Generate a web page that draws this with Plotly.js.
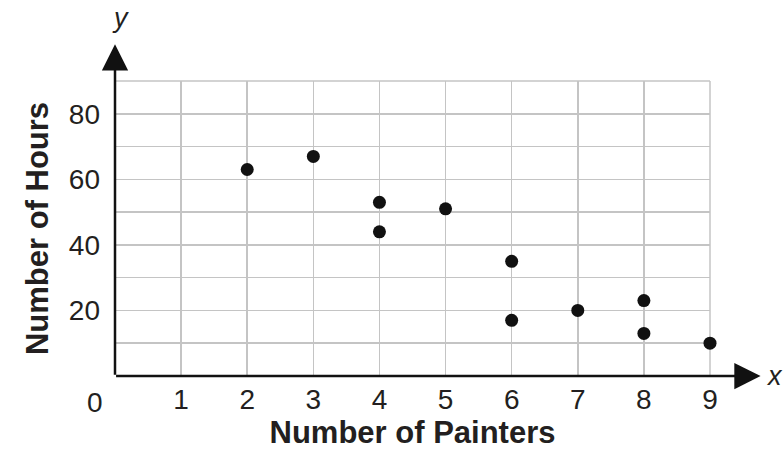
<!DOCTYPE html>
<html>
<head>
<meta charset="utf-8">
<script src="https://cdn.plot.ly/plotly-3.0.1.min.js"></script>
<style>html,body{margin:0;padding:0;background:#fff;}#chart{width:784px;height:456px;}</style>
</head>
<body>
<div id="chart"></div>
<script>
const painters = [2, 3, 4, 4, 5, 6, 6, 7, 8, 8, 9];
const hours    = [63, 67, 53, 44, 51, 35, 17, 20, 23, 13, 10];
const xTickVals = [1, 2, 3, 4, 5, 6, 7, 8, 9];
const xTickText = ['1', '2', '3', '4', '5', '6', '7', '8', '9'];
const yTickVals = [10, 20, 30, 40, 50, 60, 70, 80, 90];
const yTickText = ['', '20', '', '40', '', '60', '', '80', ''];
const xTitle = 'Number of Painters';
const yTitle = 'Number of Hours';

const tickFont = {family: 'Liberation Sans, Arial, sans-serif', size: 28, color: '#231f20'};
const titleFont = {family: 'Liberation Sans, Arial, sans-serif', size: 31, color: '#231f20', weight: 'bold'};

const trace = {
  x: painters, y: hours, type: 'scatter', mode: 'markers',
  marker: {color: '#111', size: 13}, cliponaxis: false, hoverinfo: 'x+y'
};

const layout = {
  width: 784, height: 456,
  margin: {l: 115, r: 74, t: 81, b: 80},
  paper_bgcolor: '#fff', plot_bgcolor: '#fff',
  showlegend: false,
  xaxis: {
    range: [0, 9], tickvals: xTickVals, ticktext: xTickText,
    showgrid: true, gridcolor: '#c4c4c4', gridwidth: 1.5,
    zeroline: false, showline: false,
    ticks: '', tickfont: tickFont, ticklabelstandoff: 4,
    title: {text: '<b>' + xTitle + '</b>', font: titleFont, standoff: 6},
    automargin: false, fixedrange: true
  },
  yaxis: {
    range: [0, 90], tickvals: yTickVals, ticktext: yTickText,
    showgrid: true, gridcolor: '#c4c4c4', gridwidth: 1.5,
    zeroline: false, showline: false,
    ticks: '', tickfont: tickFont, ticklabelstandoff: 14,
    title: {text: '<b>' + yTitle + '</b>', font: titleFont, standoff: 10},
    automargin: false, fixedrange: true
  },
  shapes: [
    {type: 'line', xref: 'paper', yref: 'paper', x0: 0, x1: 1, y0: 1, y1: 1, line: {color: '#c4c4c4', width: 1.5}, layer: 'below'},
    {type: 'line', xref: 'paper', yref: 'paper', x0: 1, x1: 1, y0: 0, y1: 1, line: {color: '#c4c4c4', width: 1.5}, layer: 'below'}
  ],
  annotations: [
    {xref: 'paper', yref: 'paper', x: 1.085, y: 0, ax: -646, ay: 0, showarrow: true, arrowhead: 2, arrowsize: 2.1, arrowwidth: 2.5, arrowcolor: '#111', text: ''},
    {xref: 'paper', yref: 'paper', x: 0, y: 1.125, ax: 0, ay: 332, showarrow: true, arrowhead: 2, arrowsize: 2.1, arrowwidth: 2.5, arrowcolor: '#111', text: ''},
    {xref: 'paper', yref: 'paper', x: 1.108, y: 0, xanchor: 'center', yanchor: 'middle', showarrow: false, text: '<i>x</i>', font: {family: 'Liberation Sans, Arial, sans-serif', size: 27, color: '#231f20'}},
    {xref: 'paper', yref: 'paper', x: 0.009, y: 1.215, xanchor: 'center', yanchor: 'middle', showarrow: false, text: '<i>y</i>', font: {family: 'Liberation Sans, Arial, sans-serif', size: 27, color: '#231f20'}},
    {xref: 'x', yref: 'y', x: 0, y: 0, xanchor: 'center', yanchor: 'top', xshift: -20, yshift: -9, showarrow: false, text: '0', font: tickFont}
  ]
};

Plotly.newPlot('chart', [trace], layout, {displayModeBar: false, staticPlot: true});
</script>
</body>
</html>
